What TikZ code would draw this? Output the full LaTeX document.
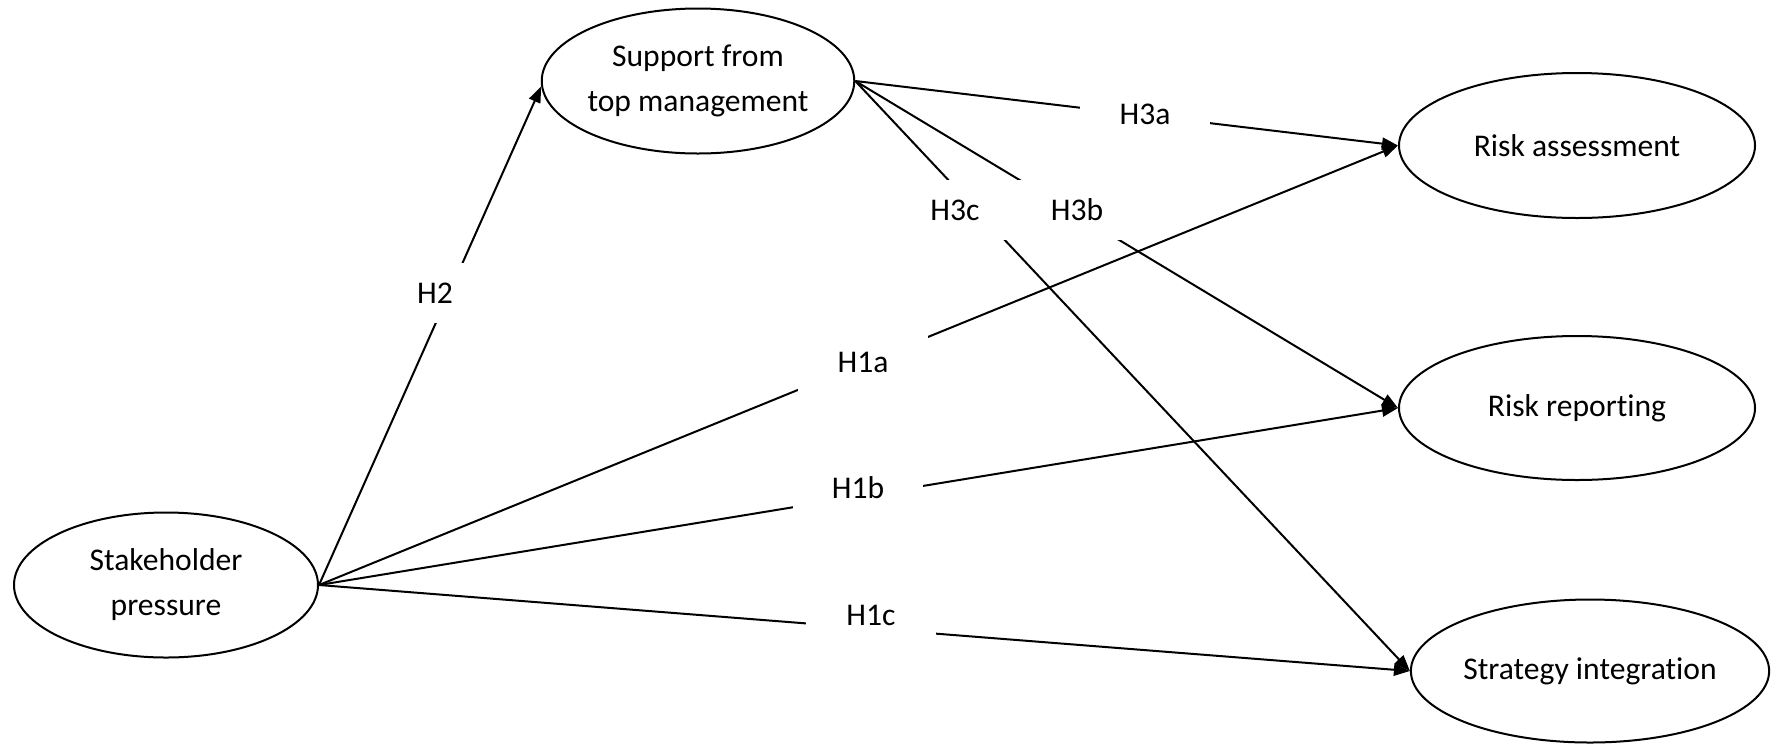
\documentclass[tikz,border=0pt]{standalone}
\usepackage{fontspec}
\setmainfont{Carlito}[Ligatures={NoCommon,NoContextual},Contextuals=NoAlternate]
\usetikzlibrary{arrows.meta,shapes.geometric}
\begin{document}
\begin{tikzpicture}[x=0.5pt,y=-0.5pt,
  var/.style={draw, ellipse, line width=1pt, inner sep=0pt, align=center, font=\fontsize{15.8}{22.5}\selectfont},
  hyp/.style={fill=white, inner sep=0pt, minimum width=65pt, minimum height=30pt, font=\fontsize{15.8}{19}\selectfont},
  link/.style={line width=1pt, -{Triangle[length=8pt,width=6pt]}}
]
\useasboundingbox (0,0) rectangle (1775,745);
\node[var, minimum width=152pt, minimum height=72.5pt] (sup) at (698,81) {Support from\\top management};
\node[var, minimum width=152pt, minimum height=72.5pt] (sh) at (166,585) {Stakeholder\\pressure};
\node[var, minimum width=178pt, minimum height=72.5pt] (ra) at (1577,145.5) {Risk assessment};
\node[var, minimum width=178pt, minimum height=72pt] (rr) at (1577,408) {Risk reporting};
\node[var, minimum width=177.5pt, minimum height=71.5pt] (si) at (1590,671) {Strategy integration};

\draw[link] (sh.east) -- (sup.182);
\draw[link] (sh.east) -- (ra.west);
\draw[link] (sh.east) -- (rr.west);
\draw[link] (sh.east) -- (si.west);
\draw[link] (sup.east) -- (ra.west);
\draw[link] (sup.east) -- (rr.west);
\draw[link] (sup.east) -- (si.west);

\node[hyp] (h2) at (435,293) {H2};
\node[hyp] (h1a) at (863,362) {H1a};
\node[hyp] (h1b) at (858,488) {H1b};
\node[hyp] (h1c) at (871,615) {H1c};
\node[hyp] (h3a) at (1145,114) {H3a};
\node[hyp] (h3b) at (1077,210) {H3b};
\node[hyp] (h3c) at (955,210) {H3c};
\end{tikzpicture}
\end{document}
